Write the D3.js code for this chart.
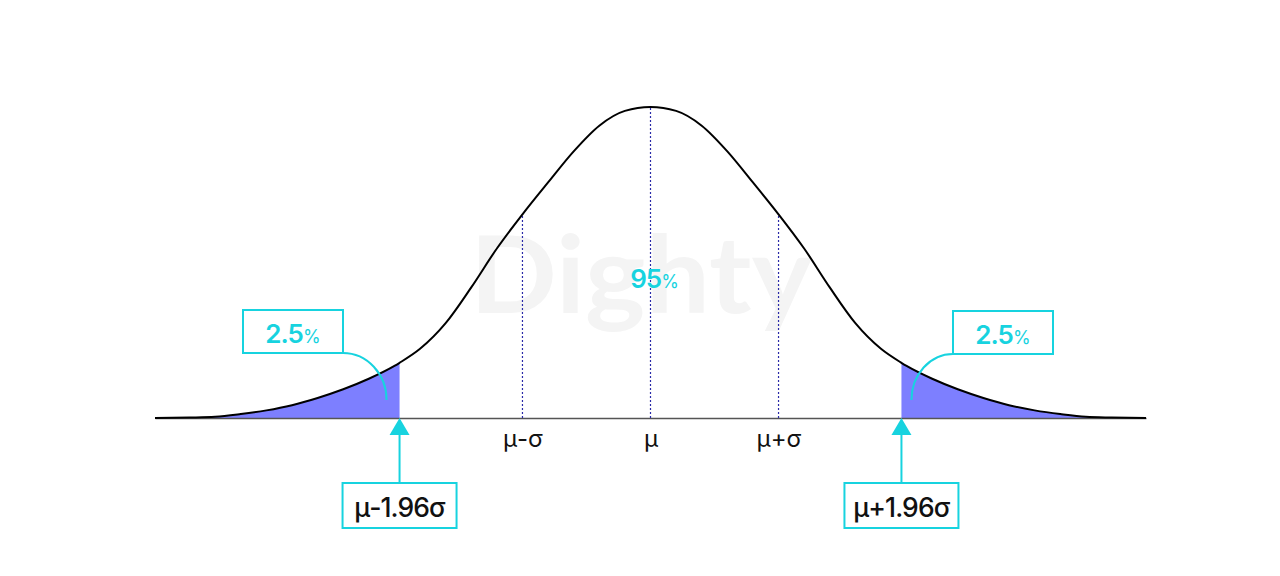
<!DOCTYPE html>
<html>
<head>
<meta charset="utf-8">
<script src="https://cdn.jsdelivr.net/npm/d3@7"></script>
<style>
  html, body { margin: 0; padding: 0; background: #ffffff; }
  svg { display: block; }
</style>
</head>
<body>
<svg id="chart" width="1280" height="576"></svg>
<script>
// ---- data ----
const zValues = [-3.87, -3.6, -3.4, -3.2, -3.0, -2.8, -2.6, -2.4, -2.2, -2.0, -1.96, -1.8, -1.6, -1.4, -1.2, -1.0, -0.8, -0.6, -0.4, -0.2, 0,
                 0.2, 0.4, 0.6, 0.8, 1.0, 1.2, 1.4, 1.6, 1.8, 1.96, 2.0, 2.2, 2.4, 2.6, 2.8, 3.0, 3.2, 3.4, 3.6, 3.87];
const densityValues = [0.0, 0.0006, 0.0015, 0.005, 0.0098, 0.0165, 0.0258, 0.037, 0.0505, 0.067, 0.071, 0.089, 0.122, 0.168, 0.218, 0.262, 0.303, 0.343, 0.376, 0.395, 0.4,
                       0.395, 0.376, 0.343, 0.303, 0.262, 0.218, 0.168, 0.122, 0.089, 0.071, 0.067, 0.0505, 0.037, 0.0258, 0.0165, 0.0098, 0.005, 0.0015, 0.0006, 0.0];
const tickZ = [-1, 0, 1];
const tickLabels = ["μ-σ", "μ", "μ+σ"];
const criticalZ = [-1.96, 1.96];
const criticalLabels = ["μ-1.96σ", "μ+1.96σ"];
const tailPercent = ["2.5", "2.5"];
const centerPercent = "95";
const watermark = "Dighty";

// ---- setup ----
const svg = d3.select("#chart");
const cyan = "#17d3df";
const fillColor = "#7d7fff";
const font = "Inter, 'Noto Sans', sans-serif";

const x = d3.scaleLinear().domain([-3.87, 3.87]).range([155, 1146]);
const y = d3.scaleLinear().domain([0, 0.4]).range([418, 107]);

const pts = zValues.map((z, i) => ({ z, v: densityValues[i] }));
const densityAt = z => pts.find(p => Math.abs(p.z - z) < 1e-9).v;

// watermark
svg.append("text")
  .attr("x", 470).attr("y", 313)
  .attr("textLength", 342).attr("lengthAdjust", "spacingAndGlyphs")
  .attr("font-family", "Lato, Inter, sans-serif")
  .attr("font-weight", 700)
  .attr("font-size", 108)
  .attr("fill", "#f4f4f4")
  .text(watermark);

// tail areas
const area = d3.area().x(d => x(d.z)).y0(y(0)).y1(d => y(d.v)).curve(d3.curveMonotoneX);
svg.append("path")
  .datum(pts.filter(p => p.z <= criticalZ[0] + 1e-9))
  .attr("d", area).attr("fill", fillColor);
svg.append("path")
  .datum(pts.filter(p => p.z >= criticalZ[1] - 1e-9))
  .attr("d", area).attr("fill", fillColor);

// axis
const axis = d3.axisBottom(x).tickValues(tickZ).tickFormat((d, i) => tickLabels[i]).tickSize(0).tickPadding(0);
const gAxis = svg.append("g").attr("transform", `translate(0,${y(0)})`).call(axis);
gAxis.select(".domain").attr("stroke", "#555").attr("stroke-width", 1.5);
gAxis.selectAll(".tick text")
  .attr("y", 29).attr("dy", 0)
  .attr("font-family", font).attr("font-size", 24).attr("fill", "#111");

// dotted verticals
svg.append("g").selectAll("line").data(tickZ).join("line")
  .attr("x1", d => x(d)).attr("x2", d => x(d))
  .attr("y1", y(0)).attr("y2", d => y(densityAt(d)))
  .attr("stroke", "#2a2aa8").attr("stroke-width", 1.2)
  .attr("stroke-dasharray", "2,2");

// curve
const line = d3.line().x(d => x(d.z)).y(d => y(d.v)).curve(d3.curveMonotoneX);
svg.append("path").datum(pts).attr("d", line)
  .attr("fill", "none").attr("stroke", "#000").attr("stroke-width", 2);

// center percent
const ct = svg.append("text")
  .attr("x", x(0) + 4).attr("y", 288).attr("text-anchor", "middle")
  .attr("font-family", font).attr("fill", cyan).attr("font-weight", 600);
ct.append("tspan").attr("font-size", 26).attr("letter-spacing", -1).text(centerPercent);
ct.append("tspan").attr("font-size", 18).attr("font-weight", 400).text("%");

// critical arrows and label boxes
criticalZ.forEach((z, i) => {
  const cx = x(z);
  const g = svg.append("g");
  g.append("line").attr("x1", cx).attr("x2", cx).attr("y1", 432).attr("y2", 483)
    .attr("stroke", cyan).attr("stroke-width", 2);
  g.append("path")
    .attr("d", `M${cx},${y(0)} L${cx - 10},${y(0) + 17} L${cx + 10},${y(0) + 17} Z`)
    .attr("fill", cyan);
  g.append("rect").attr("x", cx - 57).attr("y", 483).attr("width", 114).attr("height", 45)
    .attr("fill", "#fff").attr("stroke", cyan).attr("stroke-width", 2);
  g.append("text").attr("x", cx).attr("y", 517).attr("text-anchor", "middle")
    .attr("font-family", font).attr("font-size", 26.5).attr("font-weight", 500)
    .attr("letter-spacing", -0.9).attr("fill", "#111")
    .text(criticalLabels[i]);
});

// tail percentage boxes with curved connectors
const tailBoxes = [
  { bx: 243, by: 310, side: -1 },
  { bx: 953, by: 311, side: 1 }
];
tailBoxes.forEach((b, i) => {
  const g = svg.append("g");
  const w = 100, h = 43;
  let sx, ex;
  if (b.side < 0) { sx = b.bx + w; ex = x(criticalZ[0]) - 13; }
  else { sx = b.bx; ex = x(criticalZ[1]) + 10; }
  const sy = b.by + h, ey = 400;
  const rx = Math.abs(ex - sx), ry = ey - sy;
  const sweep = b.side < 0 ? 1 : 0;
  g.append("path")
    .attr("d", `M${sx},${sy} A${rx},${ry} 0 0 ${sweep} ${ex},${ey}`)
    .attr("fill", "none").attr("stroke", cyan).attr("stroke-width", 2);
  g.append("rect").attr("x", b.bx).attr("y", b.by).attr("width", w).attr("height", h)
    .attr("fill", "#fff").attr("stroke", cyan).attr("stroke-width", 2);
  const t = g.append("text").attr("x", b.bx + w / 2).attr("y", b.by + 33).attr("text-anchor", "middle")
    .attr("font-family", font).attr("fill", cyan).attr("font-weight", 600);
  t.append("tspan").attr("font-size", 26).attr("letter-spacing", -1).text(tailPercent[i]);
  t.append("tspan").attr("font-size", 18).attr("font-weight", 400).text("%");
});
</script>
</body>
</html>
